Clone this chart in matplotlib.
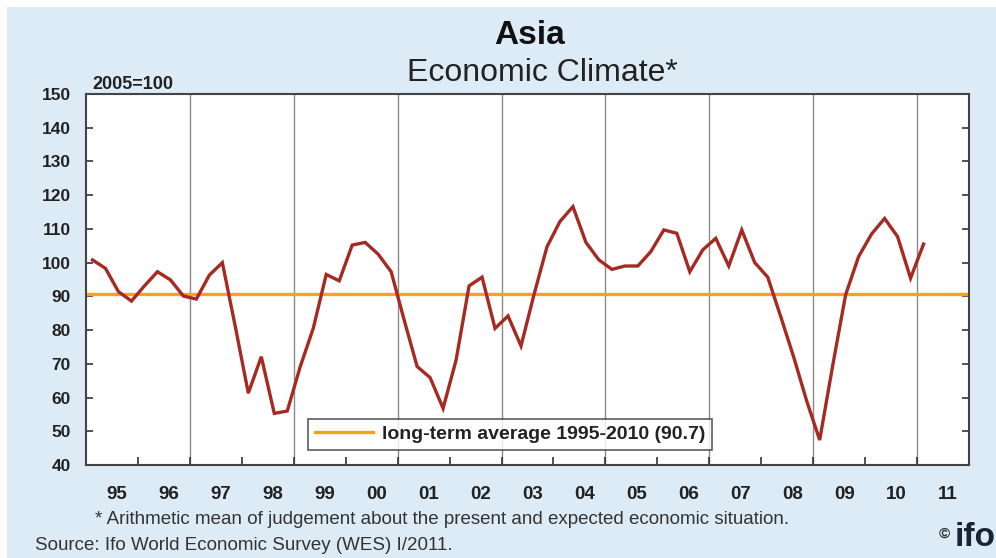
import matplotlib
matplotlib.use("Agg")
import matplotlib.pyplot as plt
import numpy as np

plt.rcParams['font.family'] = ['Liberation Sans', 'DejaVu Sans']

# Quarterly data 1995Q1 .. 2011Q1
values = [
    100.8, 98.3, 91.4, 88.6,      # 1995
    93.1, 97.3, 94.9, 90.1,       # 1996
    89.2, 96.3, 100.0, 81.0,      # 1997
    61.3, 72.1, 55.3, 56.0,       # 1998
    69.2, 80.5, 96.5, 94.6,       # 1999
    105.2, 106.0, 102.5, 97.3,    # 2000
    83.0, 69.2, 65.9, 56.8,       # 2001
    71.1, 93.1, 95.7, 80.5,       # 2002
    84.2, 75.3, 90.5, 104.7,      # 2003
    112.2, 116.6, 106.0, 100.8,   # 2004
    98.0, 99.0, 99.0, 103.3,      # 2005
    109.7, 108.7, 97.3, 103.8,    # 2006
    107.2, 99.0, 109.7, 100.0,    # 2007
    95.7, 84.0, 72.0, 59.0,       # 2008
    47.4, 69.4, 90.5, 101.8,      # 2009
    108.5, 113.1, 107.7, 95.4,    # 2010
    105.5,                        # 2011
]
long_term_avg = 90.7
year_labels = ["95", "96", "97", "98", "99", "00", "01", "02", "03", "04",
               "05", "06", "07", "08", "09", "10", "11"]
y_ticks = [40, 50, 60, 70, 80, 90, 100, 110, 120, 130, 140, 150]

BG = "#DDEBF7"
RED = "#A52A22"
ORANGE = "#F7A21B"

W, H = 996, 558
fig = plt.figure(figsize=(W / 100, H / 100), dpi=100)
fig.patch.set_facecolor("white")
# light-blue panel
fig.patches.append(plt.Rectangle((7 / W, 0), 1, 1 - 7 / H, transform=fig.transFigure,
                                 facecolor=BG, edgecolor="none", zorder=-10))

ax = fig.add_axes([86 / W, (H - 465) / H, (969 - 86) / W, (465 - 94) / H])
ax.set_facecolor("white")

x = 1995 + np.arange(len(values)) / 4.0 + 0.125
ax.plot(x, values, color=RED, lw=2.4, zorder=3, solid_joinstyle="miter")
ax.axhline(long_term_avg, color=ORANGE, lw=2.4, zorder=2)

ax.set_xlim(1995, 2012)
ax.set_ylim(40, 150)

for yr in range(1997, 2012, 2):
    ax.axvline(yr, color="#8a8a8a", lw=1.0, zorder=1)

ax.set_yticks(y_ticks)
ax.set_yticklabels([str(v) for v in y_ticks], fontsize=12.5, fontweight="bold",
                   color="#222222")
ax.tick_params(axis="y", direction="in", length=5, width=1.2, color="#333333",
               left=True, right=True, pad=11)
for lab in ax.get_yticklabels():
    lab.set_horizontalalignment("right")

ax.set_xticks(range(1996, 2012))
ax.set_xticklabels([])
ax.tick_params(axis="x", direction="in", length=6, width=1.2, color="#333333")
ax.set_xticks([yr + 0.6 for yr in range(1995, 2012)], minor=True)
ax.set_xticklabels(year_labels, minor=True, fontsize=13.5, fontweight="bold",
                   color="#222222")
ax.tick_params(axis="x", which="minor", length=0, pad=15)

for sp in ax.spines.values():
    sp.set_color("#444444")
    sp.set_linewidth(1.5)

# legend
leg = ax.legend([plt.Line2D([], [], color=ORANGE, lw=2.4)],
                ["long-term average 1995-2010 (90.7)"],
                loc="lower left",
                bbox_to_anchor=((308 - 86) / (969 - 86), (465 - 450) / (465 - 94)),
                borderaxespad=0,
                frameon=True, fancybox=False, edgecolor="#333333",
                prop={"weight": "bold", "size": 14}, handlelength=3.0,
                borderpad=0.35, handletextpad=0.45)
leg.get_frame().set_linewidth(1.2)
for t in leg.get_texts():
    t.set_color("#222222")

fig.text(530 / W, 1 - 35 / H, "Asia", ha="center", va="center", fontsize=24,
         fontweight="bold", color="#111111")
fig.text(542 / W, 1 - 73 / H, "Economic Climate*", ha="center", va="center",
         fontsize=23, color="#222222")
fig.text(92 / W, 1 - 85 / H, "2005=100", ha="left", va="center", fontsize=13,
         fontweight="bold", color="#222222")

fig.text(95 / W, 1 - 519 / H,
         "* Arithmetic mean of judgement about the present and expected economic situation.",
         ha="left", va="center", fontsize=13.5, color="#333333")
fig.text(35 / W, 1 - 546 / H, "Source: Ifo World Economic Survey (WES) I/2011.",
         ha="left", va="center", fontsize=13.5, color="#333333")
fig.text(939 / W, 1 - 534 / H, "©", ha="left", va="center", fontsize=11, fontweight="bold",
         color="#333333")
fig.text(955 / W, 1 - 538 / H, "ifo", ha="left", va="center", fontsize=24, fontweight="bold",
         color="#1a2433")

fig.savefig("out.png", dpi=100, facecolor=fig.get_facecolor())
